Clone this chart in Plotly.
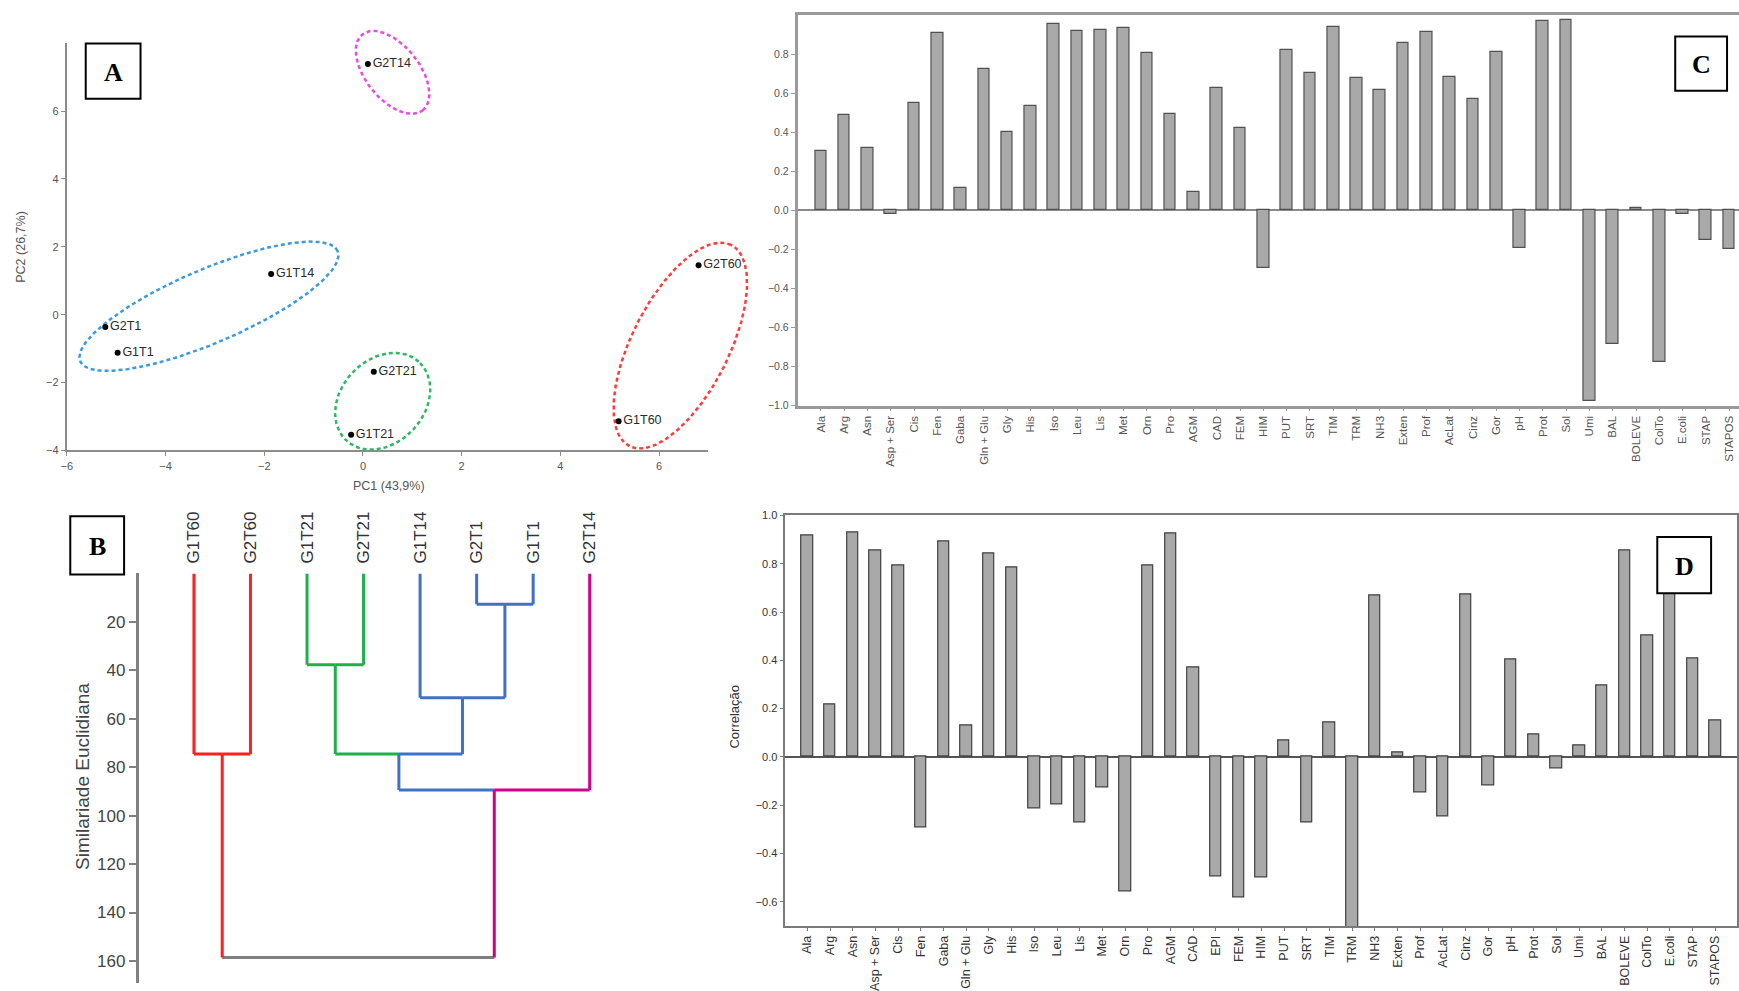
import numpy as np
import plotly.graph_objects as go

W, H = 1739, 991

# ---------------- Panel A: PCA scores ----------------
pca_labels = ["G2T14", "G1T14", "G2T1", "G1T1", "G2T21", "G1T21", "G2T60", "G1T60"]
pc1 = [0.10, -1.86, -5.22, -4.97, 0.22, -0.24, 6.80, 5.18]
pc2 = [7.39, 1.20, -0.36, -1.12, -1.68, -3.54, 1.46, -3.14]
pc1_ticks = [-6, -4, -2, 0, 2, 4, 6]
pc2_ticks = [-4, -2, 0, 2, 4, 6]

# group ellipses (centre in PC units, semi-axes in screen px, tilt in degrees)
ell_colors = ["#e64ce6", "#3d9ae0", "#2fb865", "#ff3b3b"]
ell_cx = [0.60, -3.12, 0.40, 6.43]
ell_cy = [7.14, 0.25, -2.55, -0.91]
ell_a = [49, 140.7, 54, 114]
ell_b = [27, 37.2, 42, 48.7]
ell_ang = [-52, 23.4, 48, 63.5]

# ---------------- Panel B: dendrogram ----------------
leaf_names = ["G1T60", "G2T60", "G1T21", "G2T21", "G1T14", "G2T1", "G1T1", "G2T14"]
link_left = [5, 2, 4, 0, 9, 12, 11]
link_right = [6, 3, 8, 1, 10, 7, 13]
link_height = [12.7, 37.7, 51.3, 74.5, 74.5, 89.4, 158.6]
node_color = ["red", "red", "green", "green", "blue", "blue", "blue", "magenta",
              "blue", "green", "blue", "red", "blue", "magenta", "gray"]
dendro_ticks = [20, 40, 60, 80, 100, 120, 140, 160]

# ---------------- Panel C ----------------
c_labels = ["Ala", "Arg", "Asn", "Asp + Ser", "Cis", "Fen", "Gaba", "Gln + Glu", "Gly", "His",
            "Iso", "Leu", "Lis", "Met", "Orn", "Pro", "AGM", "CAD", "FEM", "HIM",
            "PUT", "SRT", "TIM", "TRM", "NH3", "Exten", "Prof", "AcLat", "Cinz", "Gor",
            "pH", "Prot", "Sol", "Umi", "BAL", "BOLEVE", "ColTo", "E.coli", "STAP", "STAPOS"]
c_values = [0.304, 0.487, 0.318, -0.02, 0.552, 0.908, 0.116, 0.725, 0.402, 0.535,
            0.956, 0.918, 0.923, 0.932, 0.803, 0.494, 0.096, 0.624, 0.419, -0.294,
            0.822, 0.701, 0.937, 0.675, 0.615, 0.856, 0.911, 0.684, 0.569, 0.809,
            -0.191, 0.968, 0.973, -0.978, -0.684, 0.014, -0.776, -0.017, -0.152, -0.200]
c_ticks = [-1.0, -0.8, -0.6, -0.4, -0.2, 0.0, 0.2, 0.4, 0.6, 0.8]

# ---------------- Panel D ----------------
d_labels = ["Ala", "Arg", "Asn", "Asp + Ser", "Cis", "Fen", "Gaba", "Gln + Glu", "Gly", "His",
            "Iso", "Leu", "Lis", "Met", "Orn", "Pro", "AGM", "CAD", "EPI", "FEM",
            "HIM", "PUT", "SRT", "TIM", "TRM", "NH3", "Exten", "Prof", "AcLat", "Cinz",
            "Gor", "pH", "Prot", "Sol", "Umi", "BAL", "BOLEVE", "ColTo", "E.coli", "STAP", "STAPOS"]
d_values = [0.918, 0.217, 0.928, 0.855, 0.791, -0.290, 0.894, 0.130, 0.843, 0.786,
            -0.215, -0.198, -0.271, -0.126, -0.558, 0.793, 0.924, 0.369, -0.494, -0.580,
            -0.497, 0.069, -0.273, 0.142, -0.72, 0.669, 0.017, -0.146, -0.246, 0.673,
            -0.117, 0.403, 0.095, -0.048, 0.046, 0.297, 0.855, 0.503, 0.80, 0.409, 0.152]
d_ticks = [-0.6, -0.4, -0.2, 0.0, 0.2, 0.4, 0.6, 0.8, 1.0]

# ---------------- helpers ----------------
def dom_x(p0, p1):
    return [p0 / W, p1 / W]

def dom_y(top, bottom):
    return [1 - bottom / H, 1 - top / H]

FONT = "Liberation Sans"
fig = go.Figure()

# Panel A geometry (px)
A_x0, A_ux = 61.0, 49.53      # px of PC1=-6, px per unit
A_y0, A_uy = 312.8, 34.39     # px of PC2=0, px per unit
def ax_px(v):
    return A_x0 + (v + 6) * A_ux
def ay_px(v):
    return A_y0 - v * A_uy

ov_xr = [-6.5, 8.2]
ov_yr = [-4.5, 8.8]

t = np.linspace(0, 2 * np.pi, 240)
for col, cx, cy, a, b, ang in zip(ell_colors, ell_cx, ell_cy, ell_a, ell_b, ell_ang):
    th = np.radians(ang)
    dx = a * np.cos(t) * np.cos(th) - b * np.sin(t) * np.sin(th)
    dy = a * np.cos(t) * np.sin(th) + b * np.sin(t) * np.cos(th)
    fig.add_trace(go.Scatter(x=cx + dx / A_ux, y=cy + dy / A_uy, mode="lines",
                             line=dict(color=col, width=2.5, dash="4px,3px"),
                             xaxis="x5", yaxis="y5", hoverinfo="skip", showlegend=False))
fig.add_trace(go.Scatter(x=pc1, y=pc2, mode="markers+text", text=pca_labels,
                         textposition="middle right",
                         marker=dict(color="black", size=6),
                         textfont=dict(family=FONT, size=12.5, color="#2a2a2a"),
                         cliponaxis=False, xaxis="x5", yaxis="y5", showlegend=False))
# invisible trace so base axes exist
fig.add_trace(go.Scatter(x=[pc1[0]], y=[pc2[0]], mode="markers", marker=dict(opacity=0),
                         xaxis="x", yaxis="y", hoverinfo="skip", showlegend=False))

# Panel B dendrogram
dcol = {"red": "#ff1f1f", "green": "#1fb04c", "blue": "#3f72c6",
        "magenta": "#d1008a", "gray": "#7f7f7f"}
nx = list(range(len(leaf_names)))
nh = [0.0] * len(leaf_names)
for l, r, h in zip(link_left, link_right, link_height):
    nx.append((nx[l] + nx[r]) / 2)
    nh.append(h)
segs = {k: ([], []) for k in dcol}
def add_seg(c, xs, ys):
    segs[c][0].extend(xs + [None])
    segs[c][1].extend(ys + [None])
n_leaf = len(leaf_names)
for k, (l, r, h) in enumerate(zip(link_left, link_right, link_height)):
    m = n_leaf + k
    add_seg(node_color[l], [nx[l], nx[l]], [nh[l], h])
    add_seg(node_color[r], [nx[r], nx[r]], [nh[r], h])
    if m == len(nx) - 1:
        add_seg("gray", [nx[l], nx[r]], [h, h])
    else:
        add_seg(node_color[l], [nx[l], nx[m]], [h, h])
        add_seg(node_color[r], [nx[m], nx[r]], [h, h])
for c in ["gray", "red", "green", "blue", "magenta"]:
    xs, ys = segs[c]
    if xs:
        fig.add_trace(go.Scatter(x=xs, y=ys, mode="lines",
                                 line=dict(color=dcol[c], width=3),
                                 xaxis="x2", yaxis="y2", hoverinfo="skip", showlegend=False))

# Panel C bars
fig.add_trace(go.Bar(x=c_labels, y=c_values, width=0.5,
                     marker=dict(color="#a9a9a9", line=dict(color="#505050", width=1.2)),
                     xaxis="x3", yaxis="y3", showlegend=False))
# Panel D bars
fig.add_trace(go.Bar(x=d_labels, y=d_values, width=0.5,
                     marker=dict(color="#a9a9a9", line=dict(color="#404040", width=1.2)),
                     xaxis="x4", yaxis="y4", showlegend=False))

axA = dict(showline=True, linecolor="#8c8c8c", linewidth=2, ticks="outside", ticklen=4,
           tickcolor="#8c8c8c", tickfont=dict(family=FONT, size=11, color="#555"),
           showgrid=False, zeroline=False)

# panel B geometry
B_leaf0, B_ux = 188.6, 56.73
B_top, B_uy = 575.0, 2.454
# panel C geometry
C_x0, C_ux = 817.7, 23.37
C_left = 794.3
C_zero, C_uy = 207.0, 197.9
# panel D geometry
D_x0, D_ux = 804.1, 22.78
D_left, D_right = 782.0, 1737.3
D_zero, D_uy = 760.9, 244.7

layout = dict(
    width=W, height=H, autosize=False,
    margin=dict(l=0, r=0, t=0, b=0),
    paper_bgcolor="white", plot_bgcolor="rgba(0,0,0,0)",
    showlegend=False, bargap=0,
    xaxis=dict(domain=dom_x(ax_px(-6), ax_px(7)), range=[-6, 7], anchor="y",
               tickvals=pc1_ticks, **axA),
    yaxis=dict(domain=dom_y(ay_px(8), ay_px(-4)), range=[-4, 8], anchor="x",
               tickvals=pc2_ticks, **axA),
    xaxis5=dict(domain=dom_x(ax_px(ov_xr[0]), ax_px(ov_xr[1])), range=ov_xr,
                anchor="y5", visible=False),
    yaxis5=dict(domain=dom_y(ay_px(ov_yr[1]), ay_px(ov_yr[0])), range=ov_yr,
                anchor="x5", visible=False),
    xaxis2=dict(domain=dom_x(133.0, B_leaf0 + 8 * B_ux),
                range=[(133.0 - B_leaf0) / B_ux, 8], anchor="y2",
                side="top", tickvals=list(range(n_leaf)), ticktext=leaf_names,
                tickangle=-90, ticks="", ticklabelstandoff=9, showline=False,
                showgrid=False, zeroline=False,
                tickfont=dict(family=FONT, size=17, color="#333")),
    yaxis2=dict(domain=dom_y(B_top, B_top + 169 * B_uy), range=[169, 0], anchor="x2",
                showline=True, linecolor="#808080", linewidth=2.5,
                ticks="outside", ticklen=7, tickwidth=2, tickcolor="#808080",
                tickvals=dendro_ticks, showgrid=False, zeroline=False,
                tickfont=dict(family=FONT, size=17, color="#444")),
    xaxis3=dict(domain=dom_x(C_left, W),
                range=[(C_left - C_x0) / C_ux, (W - C_x0) / C_ux], anchor="y3",
                type="category", showline=True, mirror=True, linecolor="#9a9a9a",
                linewidth=2.5, ticks="outside", ticklen=3, tickcolor="#9a9a9a",
                tickangle=-90, showgrid=False,
                tickfont=dict(family=FONT, size=11.5, color="#555")),
    yaxis3=dict(domain=dom_y(C_zero - C_uy, C_zero + C_uy), range=[-1, 1], anchor="x3",
                showline=True, linecolor="#9a9a9a", linewidth=2.5, ticks="outside",
                ticklen=4, tickcolor="#9a9a9a", tickvals=c_ticks, tickformat=".1f",
                showgrid=False, zeroline=True, zerolinecolor="#8a8a8a", zerolinewidth=2,
                tickfont=dict(family=FONT, size=10.5, color="#555")),
    xaxis4=dict(domain=dom_x(D_left, D_right),
                range=[(D_left - D_x0) / D_ux, (D_right - D_x0) / D_ux], anchor="y4",
                type="category", showline=True, mirror=True, linecolor="#7a7a7a",
                linewidth=1.5, ticks="outside", ticklen=3, tickcolor="#7a7a7a",
                tickangle=-90, showgrid=False,
                tickfont=dict(family=FONT, size=12.5, color="#333")),
    yaxis4=dict(domain=dom_y(D_zero - 1.0 * D_uy, D_zero + 0.7 * D_uy), range=[-0.7, 1.0],
                anchor="x4",
                showline=True, mirror=True, linecolor="#7a7a7a", linewidth=1.5,
                ticks="outside", ticklen=4, tickcolor="#7a7a7a", tickvals=d_ticks,
                tickformat=".1f", showgrid=False, zeroline=True,
                zerolinecolor="#555", zerolinewidth=1.5,
                tickfont=dict(family=FONT, size=11, color="#333")),
)
fig.update_layout(**layout)

def ann(text, px, py, size, color="#444", angle=0, family=FONT):
    fig.add_annotation(text=text, x=px / W, y=1 - py / H, xref="paper", yref="paper",
                       showarrow=False, textangle=angle, xanchor="center", yanchor="middle",
                       font=dict(family=family, size=size, color=color))

ann("PC1 (43,9%)", 384, 486, 12.5, "#555")
ann("PC2 (26,7%)", 15, 244, 12.5, "#555", -90)
ann("Similariade Euclidiana", 77.5, 781, 19, "#444", -90)
ann("Correlação", 731.5, 720, 13, "#333", -90)

boxes = [("A", 80, 38, 135, 94), ("B", 64.5, 517, 118.5, 576),
         ("C", 1675, 31, 1727, 86), ("D", 1657, 538, 1711, 595)]
for letter, x0, y0, x1, y1 in boxes:
    fig.add_shape(type="rect", xref="paper", yref="paper", x0=x0 / W, x1=x1 / W,
                  y0=1 - y1 / H, y1=1 - y0 / H, line=dict(color="black", width=2),
                  fillcolor="white", layer="above")
    ann("<b>%s</b>" % letter, (x0 + x1) / 2, (y0 + y1) / 2 + 1, 26, "black",
        family="Liberation Serif")

fig.write_html("out.html")
